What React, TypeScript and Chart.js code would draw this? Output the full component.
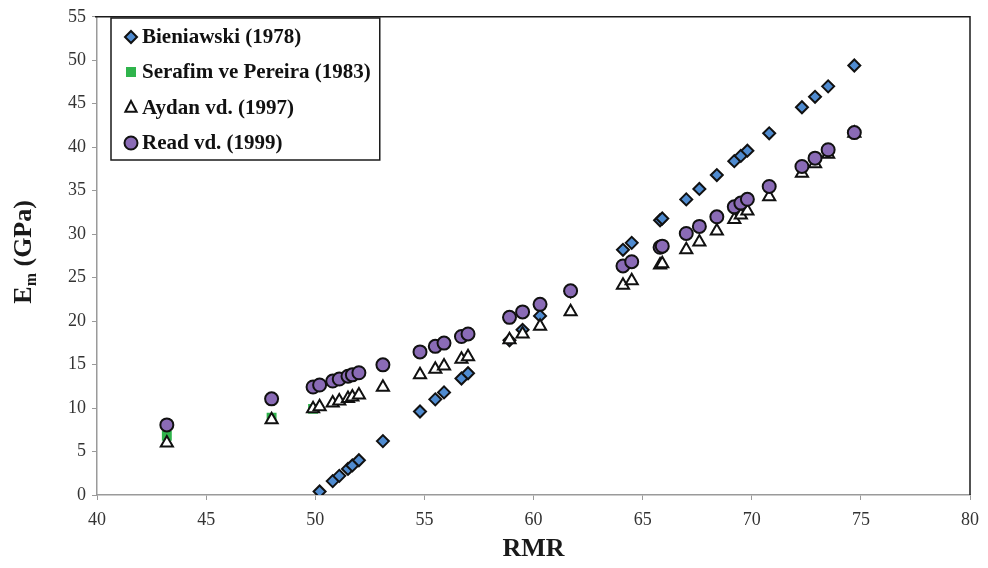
import React, { useEffect, useRef } from "react";
import { Chart, registerables } from "chart.js";

Chart.register(...registerables);

// RMR values (x) and modulus values (GPa)
const rmrBieniawski = [50.2, 50.8, 51.1, 51.5, 51.7, 52.0, 53.1, 54.8, 55.5, 55.9, 56.7, 57.0, 58.9, 59.5, 60.3, 61.7, 64.1, 64.5, 65.8, 65.9, 67.0, 67.6, 68.4, 69.2, 69.5, 69.8, 70.8, 72.3, 72.9, 73.5, 74.7];
const emBieniawski = [0.4, 1.6, 2.2, 3.0, 3.4, 4.0, 6.2, 9.6, 11.0, 11.8, 13.4, 14.0, 17.8, 19.0, 20.6, 23.4, 28.2, 29.0, 31.6, 31.8, 34.0, 35.2, 36.8, 38.4, 39.0, 39.6, 41.6, 44.6, 45.8, 47.0, 49.4];

const rmrSerafim = [43.2, 48.0, 49.9];
const emSerafim = [6.8, 8.9, 9.9];

const rmrAll = [43.2, 48.0, 49.9, 50.2, 50.8, 51.1, 51.5, 51.7, 52.0, 53.1, 54.8, 55.5, 55.9, 56.7, 57.0, 58.9, 59.5, 60.3, 61.7, 64.1, 64.5, 65.8, 65.9, 67.0, 67.6, 68.4, 69.2, 69.5, 69.8, 70.8, 72.3, 72.9, 73.5, 74.7];
const emAydan = [5.97, 8.65, 9.93, 10.15, 10.58, 10.8, 11.11, 11.26, 11.49, 12.38, 13.84, 14.47, 14.85, 15.61, 15.91, 17.86, 18.52, 19.42, 21.07, 24.11, 24.65, 26.46, 26.6, 28.2, 29.1, 30.35, 31.7, 32.2, 32.65, 34.3, 37.0, 38.1, 39.2, 41.6];
const emRead = [8.06, 11.06, 12.42, 12.65, 13.11, 13.34, 13.66, 13.82, 14.06, 14.97, 16.46, 17.1, 17.47, 18.23, 18.52, 20.43, 21.06, 21.93, 23.49, 26.34, 26.83, 28.49, 28.62, 30.08, 30.89, 32.0, 33.14, 33.57, 34.01, 35.49, 37.79, 38.74, 39.71, 41.68];

const seriesNames = ["Bieniawski (1978)", "Serafim ve Pereira (1983)", "Aydan vd. (1997)", "Read vd. (1999)"];
const xTitle = "RMR";
const yTitleMain = "E";
const yTitleSub = "m";
const yTitleRest = " (GPa)";

const BLUE = "#4f8bd0";
const GREEN = "#2fb44c";
const PURPLE = "#8a6bb6";
const SERIF = "'Liberation Serif', 'Times New Roman', serif";

const toPts = (xs: number[], ys: number[]) => xs.map((x, i) => ({ x, y: ys[i] }));

function drawMarker(ctx: CanvasRenderingContext2D, kind: string, x: number, y: number) {
  ctx.save();
  ctx.lineWidth = 2;
  ctx.strokeStyle = "#111";
  ctx.beginPath();
  if (kind === "diamond") {
    const r = 6;
    ctx.moveTo(x, y - r); ctx.lineTo(x + r, y); ctx.lineTo(x, y + r); ctx.lineTo(x - r, y); ctx.closePath();
    ctx.fillStyle = BLUE; ctx.fill(); ctx.stroke();
  } else if (kind === "square") {
    ctx.rect(x - 5, y - 5, 10, 10);
    ctx.fillStyle = GREEN; ctx.fill();
  } else if (kind === "triangle") {
    const r = 6.5;
    ctx.moveTo(x, y - r); ctx.lineTo(x + r * 0.866, y + r * 0.5 + 1); ctx.lineTo(x - r * 0.866, y + r * 0.5 + 1); ctx.closePath();
    ctx.fillStyle = "#fff"; ctx.fill(); ctx.stroke();
  } else {
    ctx.arc(x, y, 6.5, 0, Math.PI * 2);
    ctx.fillStyle = PURPLE; ctx.fill(); ctx.stroke();
  }
  ctx.restore();
}

const decorPlugin = {
  id: "decor",
  afterDraw(chart: any) {
    const { ctx, chartArea: a } = chart;
    ctx.save();
    // top & right frame
    ctx.strokeStyle = "#1a1a1a";
    ctx.lineWidth = 1.5;
    ctx.beginPath();
    ctx.moveTo(a.left - 2, a.top);
    ctx.lineTo(a.right, a.top);
    ctx.lineTo(a.right, a.bottom);
    ctx.stroke();

    // legend
    const kinds = ["diamond", "square", "triangle", "circle"];
    ctx.font = `bold 21px ${SERIF}`;
    let maxW = 0;
    seriesNames.forEach((n) => (maxW = Math.max(maxW, ctx.measureText(n).width)));
    const bx = 111, by = 18;
    const textX = 142;
    const bw = textX - bx + maxW + 9;
    const bh = 142;
    ctx.fillStyle = "#fff";
    ctx.fillRect(bx, by, bw, bh);
    ctx.strokeStyle = "#1a1a1a";
    ctx.lineWidth = 1.5;
    ctx.strokeRect(bx, by, bw, bh);
    const rows = [37, 72, 107.5, 143];
    seriesNames.forEach((n, i) => {
      drawMarker(ctx, kinds[i], 131, rows[i]);
      ctx.fillStyle = "#111";
      ctx.textAlign = "left";
      ctx.textBaseline = "middle";
      ctx.fillText(n, textX, rows[i] + 1);
    });

    // x title
    ctx.font = `bold 26px ${SERIF}`;
    ctx.fillStyle = "#1a1a1a";
    ctx.textAlign = "center";
    ctx.textBaseline = "middle";
    ctx.fillText(xTitle, (a.left + a.right) / 2, 549);

    // y title with subscript
    ctx.translate(22, (a.top + a.bottom) / 2 - 4);
    ctx.rotate(-Math.PI / 2);
    const big = `bold 26px ${SERIF}`;
    const small = `bold 16px ${SERIF}`;
    ctx.font = big;
    const w1 = ctx.measureText(yTitleMain).width;
    const w3 = ctx.measureText(yTitleRest).width;
    ctx.font = small;
    const w2 = ctx.measureText(yTitleSub).width;
    let x0 = -(w1 + w2 + w3) / 2;
    ctx.textAlign = "left";
    ctx.textBaseline = "alphabetic";
    ctx.font = big;
    ctx.fillText(yTitleMain, x0, 9);
    x0 += w1;
    ctx.font = small;
    ctx.fillText(yTitleSub, x0, 14);
    x0 += w2;
    ctx.font = big;
    ctx.fillText(yTitleRest, x0, 9);
    ctx.restore();
  },
};

export default function App() {
  const ref = useRef<HTMLCanvasElement>(null);
  useEffect(() => {
    if (!ref.current) return;
    const chart = new Chart(ref.current, {
      type: "scatter",
      data: {
        datasets: [
          {
            label: seriesNames[0],
            data: toPts(rmrBieniawski, emBieniawski),
            pointStyle: "rectRot",
            pointRadius: 6,
            pointBackgroundColor: BLUE,
            pointBorderColor: "#111",
            pointBorderWidth: 2,
            order: 3,
          },
          {
            label: seriesNames[1],
            data: toPts(rmrSerafim, emSerafim),
            pointStyle: "rect",
            pointRadius: 7,
            pointBackgroundColor: GREEN,
            pointBorderColor: GREEN,
            pointBorderWidth: 0,
            order: 2,
          },
          {
            label: seriesNames[2],
            data: toPts(rmrAll, emAydan),
            pointStyle: "triangle",
            pointRadius: 7,
            pointBackgroundColor: "#fff",
            pointBorderColor: "#111",
            pointBorderWidth: 2,
            order: 1,
          },
          {
            label: seriesNames[3],
            data: toPts(rmrAll, emRead),
            pointStyle: "circle",
            pointRadius: 6.5,
            pointBackgroundColor: PURPLE,
            pointBorderColor: "#111",
            pointBorderWidth: 2,
            order: 0,
          },
        ],
      },
      options: {
        animation: false,
        responsive: true,
        maintainAspectRatio: false,
        layout: { padding: { top: 12, right: 17, left: 0, bottom: 0 } },
        plugins: { legend: { display: false }, tooltip: { enabled: false } },
        scales: {
          x: {
            type: "linear",
            min: 40,
            max: 80,
            afterFit: (s: any) => { s.height = 73; },
            ticks: { stepSize: 5, color: "#333", font: { family: SERIF, size: 18 }, padding: 9, maxRotation: 0 },
            grid: { display: true, drawOnChartArea: false, drawTicks: true, tickLength: 5, color: "#9a9a9a" },
            border: { display: true, color: "#9a9a9a", width: 1.5 },
          },
          y: {
            type: "linear",
            min: 0,
            max: 55,
            afterFit: (s: any) => { s.width = 97; },
            ticks: { stepSize: 5, color: "#333", font: { family: SERIF, size: 18 }, padding: 6 },
            grid: { display: true, drawOnChartArea: false, drawTicks: true, tickLength: 5, color: "#9a9a9a" },
            border: { display: true, color: "#9a9a9a", width: 1.5 },
          },
        },
      },
      plugins: [decorPlugin],
    });
    return () => chart.destroy();
  }, []);
  return (
    <div style={{ position: "fixed", left: 0, top: 0, width: 988, height: 568, background: "#fff" }}>
      <canvas ref={ref} />
    </div>
  );
}
